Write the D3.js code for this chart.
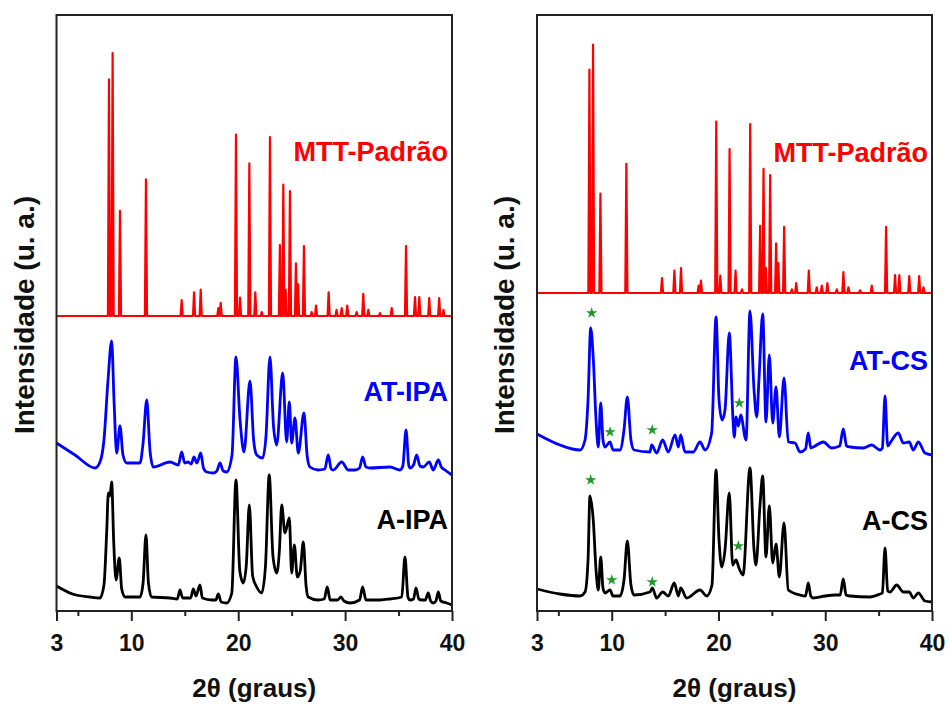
<!DOCTYPE html>
<html>
<head>
<meta charset="utf-8">
<script src="https://cdn.jsdelivr.net/npm/d3@7"></script>
<style>
  body { margin: 0; background: #fff; }
  svg { display: block; font-family: "Liberation Sans", Arial, sans-serif; font-weight: bold; }
</style>
</head>
<body>
<svg width="949" height="704"></svg>
<script>
// MTT standard: [2theta, relative intensity]
var mttPeaks = [
  [7.91, 90], [8.25, 100], [8.94, 40], [11.37, 52], [14.71, 6], [15.87, 9], [16.49, 10],
  [18.14, 3], [18.36, 5], [19.79, 69], [20.17, 7], [21.04, 58], [21.6, 9], [22.2, 1.5],
  [22.97, 68], [23.9, 27], [24.22, 50], [24.44, 10], [24.84, 47.5], [25.4, 20], [25.6, 12],
  [26.15, 26.6], [26.87, 1.5], [27.28, 4], [28.46, 9], [29.2, 2.3], [29.68, 3], [30.2, 4],
  [31.08, 1.5], [31.7, 8.4], [32.17, 2.3], [33.26, 1.1], [34.36, 3], [35.7, 26.6],
  [36.54, 7.2], [36.94, 7.2], [37.87, 6.8], [38.8, 6.8], [39.2, 2.3]
];

// stacked patterns: [2theta, intensity (a.u.)]
var atIpa = [
  [3.0, 168], [4.73, 156], [6.6, 143], [7.07, 149], [7.44, 171], [7.82, 231], [8.16, 270],
  [8.38, 211], [8.63, 158], [8.94, 185], [9.22, 156], [9.57, 148], [10.81, 148], [11.1, 168],
  [11.44, 211], [11.75, 160], [12.06, 144], [13.62, 149], [14.4, 146], [14.71, 159], [15.0, 148],
  [15.3, 149], [15.6, 147], [15.86, 154], [16.14, 148], [16.49, 158], [16.75, 143], [17.05, 139],
  [17.67, 138], [18.0, 140], [18.29, 148], [18.6, 140], [18.92, 139], [19.42, 156], [19.79, 254],
  [20.17, 191], [20.54, 159], [21.1, 230], [21.45, 170], [21.73, 156], [22.29, 153], [22.6, 175],
  [22.97, 254], [23.3, 185], [23.6, 166], [24.16, 238], [24.53, 169], [24.78, 209], [25.0, 168],
  [25.31, 193], [25.62, 158], [26.15, 198], [26.45, 155], [26.71, 144], [27.46, 141], [28.1, 142],
  [28.42, 156], [28.7, 142], [28.89, 141], [29.68, 149], [30.3, 141], [30.93, 141], [31.35, 143],
  [31.64, 154], [31.95, 144], [32.33, 143], [34.2, 144], [35.13, 141], [35.4, 145], [35.7, 181],
  [35.95, 146], [36.07, 143], [36.4, 146], [36.7, 156], [37.0, 145], [37.31, 144], [37.87, 149],
  [38.25, 141], [38.72, 151], [39.0, 144], [39.34, 141], [40.0, 136]
];
var aIpa = [
  [3.0, 25], [4.5, 17], [6.13, 14], [7.07, 13], [7.44, 26], [7.7, 80], [7.85, 118], [8.0, 115],
  [8.16, 129], [8.35, 70], [8.57, 31], [8.87, 53], [9.1, 22], [9.41, 14], [10.81, 14], [11.1, 28],
  [11.37, 76], [11.6, 28], [11.9, 14], [13.62, 13], [14.3, 12], [14.55, 21], [14.8, 13],
  [15.55, 13], [15.8, 22], [16.05, 15], [16.42, 26], [16.65, 13], [17.55, 11], [17.9, 11],
  [18.14, 17], [18.4, 9], [18.92, 8], [19.4, 18], [19.79, 131], [20.15, 40], [20.47, 28],
  [20.75, 45], [21.04, 106], [21.35, 35], [21.73, 24], [22.2, 18], [22.55, 45], [22.9, 136],
  [23.25, 55], [23.6, 38], [23.85, 60], [24.07, 106], [24.37, 78], [24.78, 93], [25.0, 38],
  [25.25, 66], [25.53, 34], [25.8, 40], [26.09, 69], [26.35, 25], [26.55, 14], [27.46, 11],
  [28.05, 12], [28.33, 24], [28.6, 11], [29.3, 11], [29.61, 14], [29.9, 10], [30.46, 8],
  [31.35, 11], [31.64, 24], [31.95, 11], [33.26, 11], [34.2, 12], [35.3, 14], [35.6, 54],
  [35.88, 14], [36.07, 11], [36.4, 12], [36.63, 23], [36.9, 12], [37.16, 11], [37.5, 11],
  [37.78, 18], [38.0, 10], [38.25, 8], [38.5, 10], [38.72, 19], [38.95, 10], [39.5, 8], [40.0, 6]
];
var atCs = [
  [3.0, 177], [5.15, 166], [7.03, 161], [7.5, 171], [7.78, 211], [8.03, 283], [8.27, 253],
  [8.53, 191], [8.74, 164], [8.97, 208], [9.18, 171], [9.37, 164], [9.84, 169], [10.12, 161],
  [10.77, 161], [11.15, 181], [11.46, 214], [11.8, 171], [12.09, 161], [13.58, 159],
  [13.74, 166], [14.21, 158], [14.77, 171], [15.3, 159], [15.93, 176], [16.24, 164],
  [16.46, 176], [16.86, 159], [17.64, 159], [18.27, 169], [18.74, 161], [19.36, 178],
  [19.77, 294], [20.05, 211], [20.33, 191], [20.61, 201], [21.01, 278], [21.36, 191],
  [21.48, 174], [21.64, 194], [21.86, 185], [22.08, 196], [22.58, 171], [22.95, 300],
  [23.33, 221], [23.58, 194], [23.79, 231], [24.14, 297], [24.45, 189], [24.76, 256],
  [25.08, 188], [25.39, 224], [25.7, 174], [26.14, 233], [26.54, 169], [27.17, 168],
  [27.63, 159], [28.15, 162], [28.41, 178], [28.65, 163], [28.88, 164], [29.82, 169],
  [30.6, 163], [31.35, 165], [31.69, 182], [32.0, 165], [32.32, 164], [33.56, 163],
  [34.35, 166], [35.13, 161], [35.35, 163], [35.6, 215], [35.85, 165], [36.07, 168],
  [36.84, 178], [37.31, 168], [37.87, 169], [38.25, 161], [38.72, 169], [39.34, 158], [40.0, 156]
];
var aCs = [
  [3.0, 22], [5.15, 17], [7.03, 15], [7.5, 19], [7.78, 51], [7.96, 115], [8.27, 91],
  [8.53, 41], [8.74, 21], [8.97, 54], [9.18, 23], [9.37, 18], [9.84, 21], [10.12, 15],
  [10.77, 15], [11.15, 31], [11.46, 70], [11.8, 26], [12.09, 16], [13.58, 19], [13.8, 23],
  [14.21, 13], [14.77, 19], [15.3, 15], [15.86, 28], [16.24, 15], [16.46, 23], [17.02, 13],
  [18.27, 21], [18.9, 15], [19.39, 26], [19.77, 141], [20.05, 71], [20.3, 44], [20.61, 61],
  [21.01, 118], [21.33, 46], [21.64, 51], [21.92, 43], [22.3, 36], [22.95, 143], [23.33, 61],
  [23.51, 46], [23.89, 106], [24.14, 135], [24.45, 54], [24.76, 105], [25.08, 48],
  [25.39, 67], [25.7, 34], [26.14, 88], [26.54, 21], [27.63, 16], [28.15, 15], [28.41, 28],
  [28.65, 15], [28.88, 13], [29.98, 15], [30.91, 16], [31.4, 16], [31.69, 32], [31.95, 16],
  [32.32, 15], [34.19, 14], [35.13, 17], [35.35, 18], [35.6, 63], [35.85, 20], [36.07, 19],
  [36.69, 26], [37.31, 19], [37.87, 19], [38.25, 13], [38.72, 18], [39.34, 10], [40.0, 9]
];

// green star markers: [2theta, intensity]
var starsAtCs = [[8.12, 298], [9.84, 179], [13.8, 181], [21.95, 208]];
var starsACs = [[8.03, 131], [10.0, 31], [13.8, 29], [21.86, 65]];

var majorTicks = [3, 10, 20, 30, 40];
var minorTicks = [5, 15, 25, 35];

var panels = [
  { x0: 56.5, x1: 452, mttBase: 295, mttScale: 2.63,
    series: [{ data: atIpa, color: '#0000ff', label: 'AT-IPA', ly: 401 },
             { data: aIpa, color: '#000000', label: 'A-IPA', ly: 529 }],
    mttLy: 161 },
  { x0: 537, x1: 932, mttBase: 318, mttScale: 2.483,
    series: [{ data: atCs, color: '#0000ff', label: 'AT-CS', ly: 370, stars: starsAtCs },
             { data: aCs, color: '#000000', label: 'A-CS', ly: 530, stars: starsACs }],
    mttLy: 162 }
];

var svg = d3.select('svg');
var plotTop = 15, plotBottom = 611;

panels.forEach(function(p) {
  var x = d3.scaleLinear().domain([3, 40]).range([p.x0, p.x1]);
  var y = d3.scaleLinear().domain([0, 596]).range([plotBottom, plotTop]);
  var g = svg.append('g');

  // MTT stick pattern
  var pts = [[3, 0]];
  mttPeaks.forEach(function(d) {
    pts.push([d[0] - 0.1, 0], [d[0], d[1]], [d[0] + 0.1, 0]);
  });
  pts.push([40, 0]);
  g.append('path')
    .attr('d', d3.line()
      .x(function(d) { return x(d[0]); })
      .y(function(d) { return y(p.mttBase + d[1] * p.mttScale); })(pts))
    .attr('fill', 'none').attr('stroke', '#ff0000').attr('stroke-width', 2.2)
    .attr('stroke-linejoin', 'round');

  var line = d3.line()
    .x(function(d) { return x(d[0]); })
    .y(function(d) { return y(d[1]); })
    .curve(d3.curveMonotoneX);

  p.series.forEach(function(s) {
    g.append('path').attr('d', line(s.data))
      .attr('fill', 'none').attr('stroke', s.color).attr('stroke-width', 2.8)
      .attr('stroke-linejoin', 'round');
    g.append('text').attr('x', p.x1 - 4).attr('y', s.ly)
      .attr('text-anchor', 'end').attr('font-size', 27)
      .attr('fill', s.color).text(s.label);
    (s.stars || []).forEach(function(d) {
      g.append('path')
        .attr('transform', 'translate(' + x(d[0]) + ',' + y(d[1]) + ')')
        .attr('d', d3.symbol().type(d3.symbolStar).size(40)())
        .attr('fill', '#1f9a2a');
    });
  });

  g.append('text').attr('x', p.x1 - 4).attr('y', p.mttLy)
    .attr('text-anchor', 'end').attr('font-size', 27)
    .attr('fill', '#ff0000').text('MTT-Padrão');

  // frame
  g.append('rect').attr('x', p.x0).attr('y', plotTop)
    .attr('width', p.x1 - p.x0).attr('height', plotBottom - plotTop)
    .attr('fill', 'none').attr('stroke', '#222').attr('stroke-width', 2);

  var ax = g.append('g').attr('transform', 'translate(0,' + plotBottom + ')')
    .call(d3.axisBottom(x).tickValues(majorTicks).tickSize(10).tickPadding(14).tickSizeOuter(0));
  ax.select('.domain').remove();
  ax.selectAll('line').attr('stroke', '#222').attr('stroke-width', 2);
  ax.selectAll('text').attr('font-size', 23).attr('fill', '#111')
    .attr('font-family', '"Liberation Sans", Arial, sans-serif').attr('font-weight', 'bold');

  var mx = g.append('g').attr('transform', 'translate(0,' + plotBottom + ')')
    .call(d3.axisBottom(x).tickValues(minorTicks).tickSize(5).tickFormat(''));
  mx.select('.domain').remove();
  mx.selectAll('line').attr('stroke', '#222').attr('stroke-width', 2);

  g.append('text')
    .attr('x', (p.x0 + p.x1) / 2).attr('y', 697)
    .attr('text-anchor', 'middle').attr('font-size', 26).attr('fill', '#111')
    .text('2θ (graus)');

  g.append('text')
    .attr('transform', 'translate(' + (p.x0 - 23) + ',315) rotate(-90)')
    .attr('text-anchor', 'middle').attr('font-size', 28).attr('fill', '#111')
    .text('Intensidade (u. a.)');
});
</script>
</body>
</html>
